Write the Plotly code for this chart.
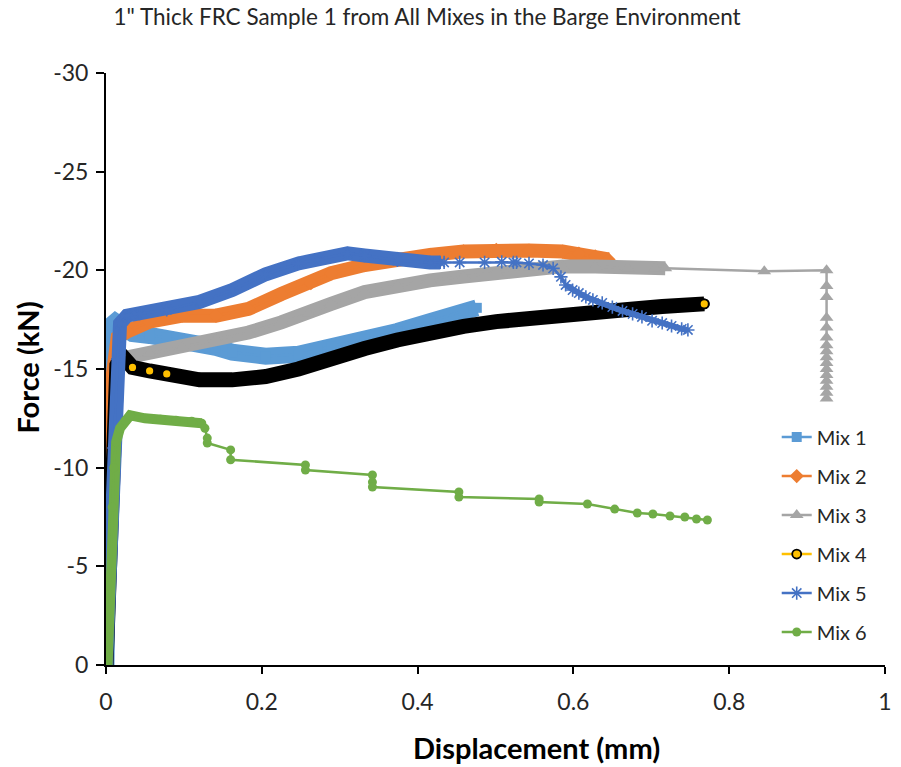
import plotly.graph_objects as go

# ---- Mix 1 ----
mix1_x = [0, 0.003, 0.006, 0.012, 0.034, 0.056, 0.078, 0.098, 0.12, 0.141, 0.162, 0.205,
          0.247, 0.272, 0.289, 0.332, 0.374, 0.416, 0.459, 0.476]
mix1_y = [0, -9.0, -17.2, -17.4, -16.8, -16.7, -16.6, -16.4, -16.3, -16.1, -15.85, -15.65,
          -15.75, -15.95, -16.15, -16.5, -16.9, -17.4, -17.95, -18.1]

# ---- Mix 2 ----
mix2_x = [0, 0.004, 0.008, 0.015, 0.027, 0.056, 0.098, 0.141, 0.183, 0.225, 0.263, 0.289,
          0.332, 0.374, 0.416, 0.459, 0.501, 0.543, 0.586, 0.607, 0.628, 0.645]
mix2_y = [0, -7.0, -14.5, -16.6, -16.9, -17.4, -17.7, -17.7, -18.05, -18.8, -19.35, -19.85,
          -20.27, -20.58, -20.78, -20.96, -21.03, -21.0, -20.95, -20.85, -20.7, -20.55]

# ---- Mix 3 ----
mix3_x = [0, 0.006, 0.014, 0.022, 0.056, 0.098, 0.141, 0.183, 0.225, 0.26, 0.289, 0.332,
          0.374, 0.416, 0.459, 0.501, 0.543, 0.586, 0.628, 0.67, 0.705, 0.718,
          0.845, 0.925, 0.925, 0.925, 0.925, 0.925, 0.925, 0.925, 0.925, 0.925, 0.925,
          0.925, 0.925, 0.925, 0.925, 0.925, 0.925]
mix3_y = [0, -8.0, -15.0, -15.55, -15.8, -16.1, -16.5, -16.85, -17.36, -17.8, -18.3, -18.9,
          -19.23, -19.49, -19.69, -19.89, -20.15, -20.2, -20.2, -20.1, -20.1, -20.1,
          -19.95, -20.0, -19.2, -18.65, -17.6, -17.1, -16.6, -16.2, -15.9, -15.6, -15.3,
          -15.0, -14.7, -14.4, -14.1, -13.8, -13.5]
mix3_dense_end = 22  # continuous recording ends here, sparse readings follow

# ---- Mix 4 ----
mix4_x = [0, 0.006, 0.014, 0.02, 0.034, 0.056, 0.078, 0.12, 0.162, 0.205, 0.247, 0.272,
          0.289, 0.332, 0.374, 0.416, 0.459, 0.501, 0.543, 0.586, 0.628, 0.67, 0.714,
          0.756, 0.768]
mix4_y = [0, -8.0, -15.2, -15.7, -15.08, -14.9, -14.75, -14.45, -14.45, -14.62, -15.0,
          -15.25, -15.53, -16.04, -16.47, -16.85, -17.16, -17.4, -17.6, -17.7, -17.87,
          -18.02, -18.17, -18.3, -18.3]
mix4_open_idx = [0, 3, 4, 5, 6, 24]  # circles whose fill shows through

# ---- Mix 5 ----
mix5_x = [0, 0.005, 0.01, 0.015, 0.018, 0.027, 0.043, 0.078, 0.12, 0.162, 0.205, 0.247,
          0.272, 0.31, 0.332, 0.374, 0.416, 0.429,
          0.434, 0.454, 0.486, 0.508, 0.523, 0.527, 0.543, 0.561, 0.574, 0.584,
          0.59, 0.599, 0.607, 0.616, 0.625, 0.637, 0.65, 0.663, 0.676, 0.688, 0.701,
          0.714, 0.726, 0.739, 0.747]
mix5_y = [0, -5.0, -11.0, -15.5, -17.3, -17.7, -17.8, -18.0, -18.4, -19.0, -19.8, -20.35,
          -20.55, -20.86, -20.75, -20.5, -20.4, -20.4,
          -20.4, -20.4, -20.4, -20.43, -20.4, -20.4, -20.35, -20.27, -20.1, -19.67,
          -19.26, -19.0, -18.85, -18.65, -18.5, -18.35, -18.14, -17.94, -17.79, -17.64,
          -17.44, -17.33, -17.18, -17.03, -16.98]
mix5_dense_end = 18
mix5_tail_start = 28

# ---- Mix 6 ----
mix6_x = [0.002, 0.005, 0.008, 0.01, 0.013, 0.018, 0.025, 0.031, 0.05, 0.07, 0.09, 0.11,
          0.123,
          0.127, 0.13, 0.13, 0.16, 0.16, 0.256, 0.256, 0.342, 0.342, 0.342, 0.453, 0.453,
          0.556, 0.556, 0.618, 0.653, 0.682, 0.702, 0.724, 0.743, 0.758, 0.772]
mix6_y = [0, -4.0, -8.0, -10.0, -11.3, -12.0, -12.4, -12.65, -12.5, -12.45, -12.4, -12.35,
          -12.25,
          -12.0, -11.5, -11.25, -10.9, -10.4, -10.14, -9.88, -9.63, -9.27, -9.02, -8.77,
          -8.51, -8.41, -8.26, -8.16, -7.9, -7.7, -7.65, -7.55, -7.5, -7.4, -7.35]
mix6_dense_end = 13

# ---- axis ticks ----
x_ticks = [0, 0.2, 0.4, 0.6, 0.8, 1]
x_tick_text = ["0", "0.2", "0.4", "0.6", "0.8", "1"]
y_ticks = [0, -5, -10, -15, -20, -25, -30]
y_tick_text = ["0", "-5", "-10", "-15", "-20", "-25", "-30"]

C1, C2, C3, C4, C5, C6 = "#5B9BD5", "#ED7D31", "#A5A5A5", "#FFC000", "#4472C4", "#70AD47"
FONT = "Lato"
TEXT = "#262626"

fig = go.Figure()


def band(x, y, color, width, group):
    fig.add_trace(go.Scatter(x=x, y=y, mode="lines", line=dict(color=color, width=width),
                             legendgroup=group, showlegend=False, hoverinfo="skip"))


def series(x, y, name, color, symbol, size, lw=2.5, mcolor=None, mline=None):
    fig.add_trace(go.Scatter(
        x=x, y=y, mode="lines+markers", name=name, legendgroup=name,
        line=dict(color=color, width=lw),
        marker=dict(symbol=symbol, size=size, color=mcolor or color,
                    line=mline or dict(width=0))))


# Mix 1
band(mix1_x, mix1_y, C1, 17, "Mix 1")
series(mix1_x, mix1_y, "Mix 1", C1, "square", 10)

# Mix 2
band(mix2_x, mix2_y, C2, 14, "Mix 2")
series(mix2_x, mix2_y, "Mix 2", C2, "diamond", 11)

# Mix 3
band(mix3_x[:mix3_dense_end], mix3_y[:mix3_dense_end], C3, 14, "Mix 3")
series(mix3_x, mix3_y, "Mix 3", C3, "triangle-up", 12)

# Mix 4: yellow series under a black band of overlapping circle outlines
series(mix4_x, mix4_y, "Mix 4", C4, "circle", 9, mcolor=C4,
       mline=dict(color="black", width=1.8))
band(mix4_x, mix4_y, "black", 15, "Mix 4")
fig.add_trace(go.Scatter(
    x=[mix4_x[i] for i in mix4_open_idx], y=[mix4_y[i] for i in mix4_open_idx],
    mode="markers", legendgroup="Mix 4", showlegend=False, hoverinfo="skip",
    marker=dict(symbol="circle", size=9, color=C4, line=dict(color="black", width=1.8))))

# Mix 5
band(mix5_x[:mix5_dense_end], mix5_y[:mix5_dense_end], C5, 14, "Mix 5")
band(mix5_x[mix5_tail_start:], mix5_y[mix5_tail_start:], C5, 6, "Mix 5")
series(mix5_x, mix5_y, "Mix 5", C5, "asterisk-open", 11,
       mline=dict(color=C5, width=1.6))

# Mix 6
band(mix6_x[:mix6_dense_end], mix6_y[:mix6_dense_end], C6, 10, "Mix 6")
series(mix6_x, mix6_y, "Mix 6", C6, "circle", 9)

fig.update_layout(
    width=901, height=767,
    margin=dict(l=106, r=9, t=73, b=102),
    paper_bgcolor="white", plot_bgcolor="white",
    font=dict(family=FONT, color=TEXT),
    title=dict(text='1" Thick FRC Sample 1 from All Mixes in the Barge Environment',
               x=0.474, xref="container", xanchor="center",
               y=0.978, yref="container", yanchor="middle",
               font=dict(family=FONT, size=22.5, color=TEXT)),
    xaxis=dict(range=[0, 1], tickvals=x_ticks, ticktext=x_tick_text,
               showgrid=False, zeroline=False, showline=True, linecolor="black",
               linewidth=2, ticks="outside", ticklen=7, tickwidth=2, tickcolor="black",
               ticklabelstandoff=8,
               tickfont=dict(family=FONT, size=23, color=TEXT)),
    yaxis=dict(range=[0, -30], tickvals=y_ticks, ticktext=y_tick_text,
               showgrid=False, zeroline=False, showline=True, linecolor="black",
               linewidth=2, ticks="outside", ticklen=8, tickwidth=2, tickcolor="black",
               ticklabelstandoff=3,
               tickfont=dict(family=FONT, size=23, color=TEXT)),
    legend=dict(x=0.861, xanchor="left", y=0.418, yanchor="top",
                font=dict(family=FONT, size=20, color=TEXT),
                bgcolor="rgba(0,0,0,0)", tracegroupgap=10, traceorder="grouped"),
    annotations=[
        dict(text="<b>Displacement (mm)</b>", xref="paper", yref="paper",
             x=0.553, y=-0.140, xanchor="center", yanchor="middle", showarrow=False,
             font=dict(family=FONT, size=29, color="black")),
        dict(text="<b>Force (kN)</b>", xref="paper", yref="paper",
             x=-0.1005, y=0.502, xanchor="center", yanchor="middle", showarrow=False,
             textangle=-90, font=dict(family=FONT, size=29, color="black")),
    ],
)

fig.write_html("out.html")
